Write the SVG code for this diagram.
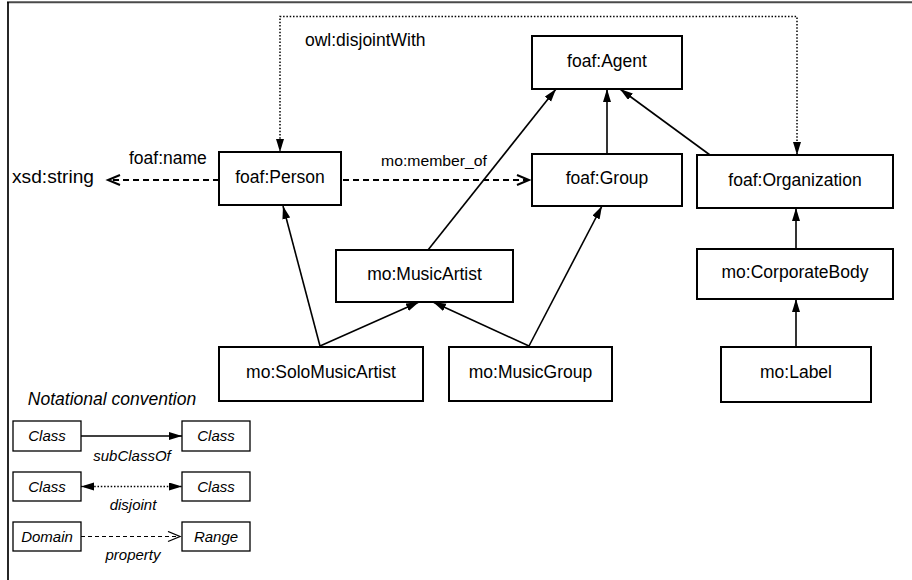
<svg xmlns="http://www.w3.org/2000/svg" width="912" height="580" viewBox="0 0 912 580">
<style>
.node rect{fill:#fff;stroke:#000;stroke-width:2}
.node text{font-family:"Liberation Sans",Arial,sans-serif;font-size:17.5px;text-anchor:middle;fill:#000}
.lbl{font-family:"Liberation Sans",Arial,sans-serif;font-size:17.5px;fill:#000}
.small{font-size:14.5px}
.sub{fill:none;stroke:#000;stroke-width:1.6;marker-end:url(#tri)}
.dis{fill:none;stroke:#000;stroke-width:1.5;stroke-dasharray:1.5 1.8}
.prop{fill:none;stroke:#000;stroke-width:2;stroke-dasharray:6 4;marker-end:url(#open)}
.leg rect{fill:#fff;stroke:#000;stroke-width:1.3}
.leg text{font-family:"Liberation Sans",Arial,sans-serif;font-size:15px;font-style:italic;text-anchor:middle;fill:#000}
</style>
<defs>
<marker id="tri" markerUnits="userSpaceOnUse" markerWidth="14" markerHeight="10" refX="13" refY="4" orient="auto"><path d="M0,0 L13,4 L0,8 z" fill="#000"/></marker>
<marker id="triS" markerUnits="userSpaceOnUse" markerWidth="14" markerHeight="10" refX="13" refY="4" orient="auto-start-reverse"><path d="M0,0 L13,4 L0,8 z" fill="#000"/></marker>
<marker id="open" markerUnits="userSpaceOnUse" markerWidth="16" markerHeight="14" refX="13" refY="6" orient="auto-start-reverse"><path d="M1,1 L13,6 L1,11" fill="none" stroke="#000" stroke-width="2"/></marker>
<marker id="openS" markerUnits="userSpaceOnUse" markerWidth="16" markerHeight="14" refX="13" refY="6" orient="auto"><path d="M1,1 L13,6 L1,11" fill="none" stroke="#000" stroke-width="1.3"/></marker>
</defs>
<rect x="0" y="0" width="912" height="580" fill="#fff"/>
<g id="frame">
<line x1="7" y1="2.3" x2="912" y2="2.3" stroke="#4a4a4a" stroke-width="2"/>
<line x1="8" y1="2" x2="8" y2="580" stroke="#000" stroke-width="1.7"/>
</g>
<g id="connectors">
<path class="dis" d="M280,152 V16.5 H797 V155" style="marker-start:url(#triS);marker-end:url(#tri)"/>
<path class="prop" d="M219,180 H108" style="marker-end:url(#open)"/>
<path class="prop" d="M343,180 H529"/>
<path class="sub" d="M320,346 L283,206"/>
<path class="sub" d="M320,346 L419,302"/>
<path class="sub" d="M529,346 L433,302"/>
<path class="sub" d="M529,346 L602,206"/>
<path class="sub" d="M428,250 L556,89"/>
<path class="sub" d="M607,154 L607,89"/>
<path class="sub" d="M710,155 L620,89"/>
<path class="sub" d="M796,249 L796,208"/>
<path class="sub" d="M796,347 L796,299"/>
<text class="lbl" x="305" y="46">owl:disjointWith</text>
<text class="lbl" x="129" y="164">foaf:name</text>
<text class="lbl" x="12" y="183" textLength="82" lengthAdjust="spacingAndGlyphs">xsd:string</text>
<text class="lbl small" x="381" y="166" textLength="106" lengthAdjust="spacingAndGlyphs">mo:member_of</text>
</g>
<g id="agent" class="node"><rect x="532" y="36" width="150" height="53"/><text x="607" y="67">foaf:Agent</text></g>
<g id="person" class="node"><rect x="219" y="152" width="122" height="53"/><text x="280" y="183">foaf:Person</text></g>
<g id="group" class="node"><rect x="532" y="154" width="150" height="52"/><text x="607" y="184">foaf:Group</text></g>
<g id="organization" class="node"><rect x="697" y="155" width="196" height="53"/><text x="795" y="186">foaf:Organization</text></g>
<g id="musicartist" class="node"><rect x="336" y="250" width="177" height="52"/><text x="424.5" y="280">mo:MusicArtist</text></g>
<g id="corporatebody" class="node"><rect x="697" y="249" width="196" height="50"/><text x="795" y="278">mo:CorporateBody</text></g>
<g id="solomusicartist" class="node"><rect x="219" y="347" width="204" height="54"/><text x="321" y="378">mo:SoloMusicArtist</text></g>
<g id="musicgroup" class="node"><rect x="449" y="347" width="163" height="54"/><text x="530.5" y="378">mo:MusicGroup</text></g>
<g id="label" class="node"><rect x="721" y="347" width="150" height="55"/><text x="796" y="378">mo:Label</text></g>
<g id="legend" class="leg">
<text x="112" y="405" style="font-size:17.5px">Notational convention</text>
<rect x="13" y="421" width="68" height="30"/><text x="47" y="441">Class</text>
<rect x="182" y="421" width="68" height="30"/><text x="216" y="441">Class</text>
<path d="M81,436 H182" fill="none" stroke="#000" stroke-width="1.3" marker-end="url(#tri)"/>
<text x="132" y="461">subClassOf</text>
<rect x="13" y="472" width="68" height="29"/><text x="47" y="492">Class</text>
<rect x="182" y="472" width="68" height="29"/><text x="216" y="492">Class</text>
<path d="M81,486.5 H182" class="dis" marker-start="url(#triS)" marker-end="url(#tri)"/>
<text x="133" y="510">disjoint</text>
<rect x="13" y="522" width="68" height="29"/><text x="47" y="542">Domain</text>
<rect x="182" y="522" width="68" height="29"/><text x="216" y="542">Range</text>
<path d="M81,536.5 H180" fill="none" stroke="#000" stroke-width="1.2" stroke-dasharray="4 3" marker-end="url(#openS)"/>
<text x="133" y="560">property</text>
</g>
</svg>
